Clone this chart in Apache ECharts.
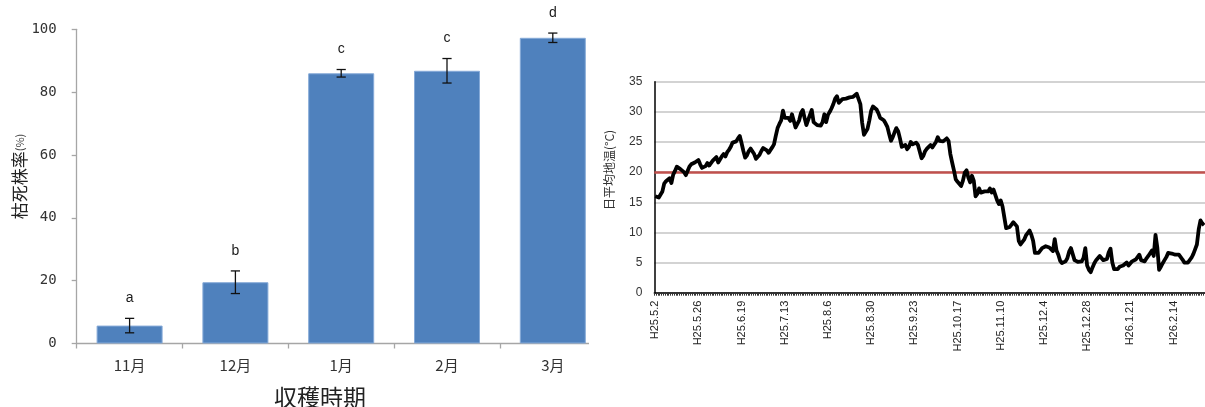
<!DOCTYPE html>
<html>
<head>
<meta charset="utf-8">
<script src="https://cdn.jsdelivr.net/npm/echarts@6/dist/echarts.min.js"></script>
<style>
  html, body { margin: 0; padding: 0; background: #fff; }
  #main { width: 1205px; height: 407px; }
</style>
</head>
<body>
<div id="main"></div>
<script>
// Left panel: dead-plant rate by harvest month (mean ± error, letters = significance groups)
const months = ['11月', '12月', '1月', '2月', '3月'];
const deadRate = [5.7, 19.5, 86.0, 86.8, 97.3];
const deadErr = [2.3, 3.6, 1.2, 3.9, 1.5];
const groupLetters = ['a', 'b', 'c', 'c', 'd'];
const rateTicks = [0, 20, 40, 60, 80, 100];

// Right panel: daily mean soil temperature from H25.5.2
const startDate = [2013, 5, 2];
const soilTemp = [
  16.0, 15.7, 15.8, 16.3, 16.8, 18.1, 18.5, 18.4, 19.0, 18.2,
  19.6, 20.2, 20.9, 21.1, 20.5, 20.5, 20.0, 19.5, 20.2, 20.9,
  21.3, 21.2, 21.6, 21.5, 22.0, 21.3, 20.7, 20.5, 21.0, 21.5,
  21.1, 21.4, 21.9, 22.2, 22.5, 21.6, 22.1, 22.6, 23.0, 22.6,
  23.3, 23.7, 24.2, 24.9, 24.7, 25.1, 25.6, 26.0, 24.8, 23.5,
  22.4, 22.8, 23.5, 23.9, 24.0, 23.0, 22.2, 22.4, 22.9, 23.5,
  24.0, 24.3, 23.6, 23.2, 23.4, 24.1, 24.6, 26.0, 27.3, 28.0,
  28.6, 30.2, 29.0, 29.3, 29.0, 28.5, 29.6, 29.9, 27.4, 27.6,
  28.6, 29.8, 30.3, 29.0, 27.8, 28.0, 29.5, 30.3, 28.3, 28.6,
  27.8, 27.9, 27.7, 28.3, 29.6, 28.3, 29.5, 30.0, 30.6, 31.3,
  32.2, 32.6, 31.5, 31.8, 32.1, 32.4, 32.2, 32.0, 32.4, 32.2,
  32.5, 32.8, 33.0, 33.2, 31.3, 28.2, 26.2, 26.1, 27.2, 28.6,
  30.2, 30.9, 30.9, 30.4, 29.8, 29.0, 28.8, 28.6, 28.1, 27.5,
  26.3, 25.2, 25.8, 26.6, 27.3, 26.8, 25.6, 24.2, 24.3, 24.5,
  23.8, 24.2, 25.0, 24.6, 24.4, 24.9, 24.5, 24.3, 22.3, 22.7,
  23.5, 23.9, 24.2, 24.5, 24.1, 24.3, 25.0, 25.8, 25.2, 25.3,
  25.1, 25.2, 25.6, 25.2, 23.0, 21.6, 20.3, 18.8, 18.4, 18.2,
  17.7, 18.6, 19.9, 20.3, 19.1, 18.3, 19.4, 18.6, 16.0, 16.4,
  17.3, 16.6, 16.8, 16.8, 16.9, 16.8, 17.3, 16.6, 17.1, 16.9,
  15.3, 14.7, 15.3, 14.3, 12.5, 10.7, 10.6, 10.9, 11.3, 11.7,
  11.9, 11.0, 8.6, 8.0, 7.8, 8.8, 9.5, 9.4, 10.3, 9.6,
  8.6, 6.6, 6.3, 6.6, 6.9, 7.4, 7.6, 7.7, 7.6, 7.5,
  7.6, 6.9, 8.9, 7.0, 6.3, 5.3, 4.9, 5.0, 5.2, 5.7,
  6.8, 7.4, 6.4, 5.4, 5.2, 5.1, 5.2, 5.2, 5.8, 7.4,
  4.5, 3.8, 3.4, 4.2, 4.9, 5.4, 5.7, 6.1, 6.2, 5.4,
  5.2, 5.6, 6.7, 7.3, 5.0, 3.9, 4.2, 3.9, 4.3, 4.2,
  4.5, 4.6, 5.0, 4.5, 4.2, 5.2, 5.2, 5.5, 5.6, 6.3,
  5.4, 5.5, 5.2, 5.7, 6.1, 6.4, 7.0, 6.1, 9.6, 7.5,
  3.8, 4.3, 4.9, 5.4, 5.9, 6.6, 6.8, 6.5, 6.6, 6.3,
  6.6, 6.3, 5.9, 5.5, 5.0, 4.9, 5.0, 5.2, 5.8, 6.4,
  7.2, 8.0, 10.5, 12.0, 11.5, 11.2
];
const thresholdTemp = 20;
const tempTicks = [0, 5, 10, 15, 20, 25, 30, 35];

// Daily category labels in Heisei notation (H25 = 2013)
const dayLabels = soilTemp.map((_, i) => {
  const d = new Date(Date.UTC(startDate[0], startDate[1] - 1, startDate[2] + i));
  return 'H' + (d.getUTCFullYear() - 1988) + '.' + (d.getUTCMonth() + 1) + '.' + d.getUTCDate();
});

const chart = echarts.init(document.getElementById('main'));

const cjk = '"Noto Sans CJK JP", sans-serif';

chart.setOption({
  animation: false,
  backgroundColor: '#fff',
  grid: [
    { left: 76.7, top: 29.3, width: 529, height: 314.2 },
    { left: 654.3, top: 81.7, width: 552, height: 211 }
  ],
  xAxis: [
    {
      gridIndex: 0,
      type: 'category',
      data: months,
      axisLine: { lineStyle: { color: '#a6a6a6', width: 1.3 } },
      axisTick: { show: true, length: 5, lineStyle: { color: '#a6a6a6', width: 1.3 } },
      axisLabel: { margin: 14, fontSize: 15, color: '#333', fontFamily: cjk }
    },
    {
      gridIndex: 1,
      type: 'category',
      data: dayLabels,
      axisLine: { lineStyle: { color: '#000', width: 1.5 } },
      axisTick: { show: true, interval: 0, length: 3, lineStyle: { color: '#333', width: 1 } },
      axisLabel: {
        interval: 23, rotate: 90, margin: 8,
        fontSize: 11, color: '#222', fontFamily: '"Liberation Sans", Arial, sans-serif'
      }
    }
  ],
  yAxis: [
    {
      gridIndex: 0,
      type: 'value',
      min: rateTicks[0], max: rateTicks[rateTicks.length - 1], interval: 20,
      axisLine: { show: true, lineStyle: { color: '#a6a6a6', width: 1.3 } },
      axisTick: { show: true, length: 5, lineStyle: { color: '#a6a6a6', width: 1.3 } },
      splitLine: { show: false },
      axisLabel: { margin: 20, fontSize: 14, color: '#333', fontFamily: '"DejaVu Sans Mono", monospace' }
    },
    {
      gridIndex: 1,
      type: 'value',
      min: tempTicks[0], max: tempTicks[tempTicks.length - 1], interval: 5,
      axisLine: { show: true, lineStyle: { color: '#000', width: 1.5 } },
      axisTick: { show: false },
      splitLine: { show: true, lineStyle: { color: '#c4c4c4', width: 1.5 } },
      axisLabel: {
        margin: 12, fontSize: 12, color: '#333',
        fontFamily: '"Liberation Sans Narrow", "Liberation Sans", Arial, sans-serif'
      }
    }
  ],
  series: [
    {
      type: 'bar',
      xAxisIndex: 0, yAxisIndex: 0,
      data: deadRate,
      barWidth: 66,
      itemStyle: { color: '#4F81BD', borderColor: '#86aad8', borderWidth: 1 },
      z: 2
    },
    {
      type: 'custom',
      xAxisIndex: 0, yAxisIndex: 0,
      data: deadRate.map((v, i) => [i, v - deadErr[i], v + deadErr[i]]),
      renderItem: function (params, api) {
        const hi = api.coord([api.value(0), api.value(2)]);
        const lo = api.coord([api.value(0), api.value(1)]);
        const cap = 4.6;
        const st = { stroke: '#111', lineWidth: 1.3 };
        return {
          type: 'group',
          children: [
            { type: 'line', shape: { x1: hi[0], y1: hi[1], x2: lo[0], y2: lo[1] }, style: st },
            { type: 'line', shape: { x1: hi[0] - cap, y1: hi[1], x2: hi[0] + cap, y2: hi[1] }, style: st },
            { type: 'line', shape: { x1: lo[0] - cap, y1: lo[1], x2: lo[0] + cap, y2: lo[1] }, style: st },
            {
              type: 'text', x: hi[0], y: hi[1] - 20,
              style: {
                text: groupLetters[params.dataIndex],
                align: 'center', verticalAlign: 'middle',
                font: '14px "Liberation Sans", Arial, sans-serif', fill: '#1a1a1a'
              }
            }
          ]
        };
      },
      z: 5
    },
    {
      type: 'line',
      xAxisIndex: 1, yAxisIndex: 1,
      data: soilTemp,
      symbol: 'none',
      lineStyle: { color: '#000', width: 3.8, join: 'round' },
      z: 4,
      markLine: {
        silent: true,
        symbol: 'none',
        label: { show: false },
        lineStyle: { color: '#C0504D', width: 2.6, type: 'solid' },
        data: [{ yAxis: thresholdTemp }],
        z: 3
      }
    }
  ],
  graphic: [
    // left panel ends at the edge of its frame
    { type: 'rect', z: 50, shape: { x: 589, y: 0, width: 18, height: 407 }, style: { fill: '#fff' } },
    {
      type: 'text', z: 100, x: 20, y: 176.5, rotation: Math.PI / 2,
      style: {
        text: '{a|枯死株率}{b|(%)}',
        align: 'center', verticalAlign: 'middle',
        rich: {
          a: { fontSize: 17, fontFamily: cjk, fill: '#222' },
          b: { fontSize: 11, fontFamily: cjk, fill: '#444' }
        }
      }
    },
    {
      type: 'text', z: 100, x: 320, y: 397,
      style: {
        text: '収穫時期', align: 'center', verticalAlign: 'middle',
        font: '23px "Noto Sans CJK JP"', fill: '#222'
      }
    },
    {
      type: 'text', z: 100, x: 609, y: 170, rotation: Math.PI / 2,
      style: {
        text: '日平均地温(°C)', align: 'center', verticalAlign: 'middle',
        font: '12px "Noto Sans CJK JP"', fill: '#333'
      }
    }
  ]
});
</script>
</body>
</html>
